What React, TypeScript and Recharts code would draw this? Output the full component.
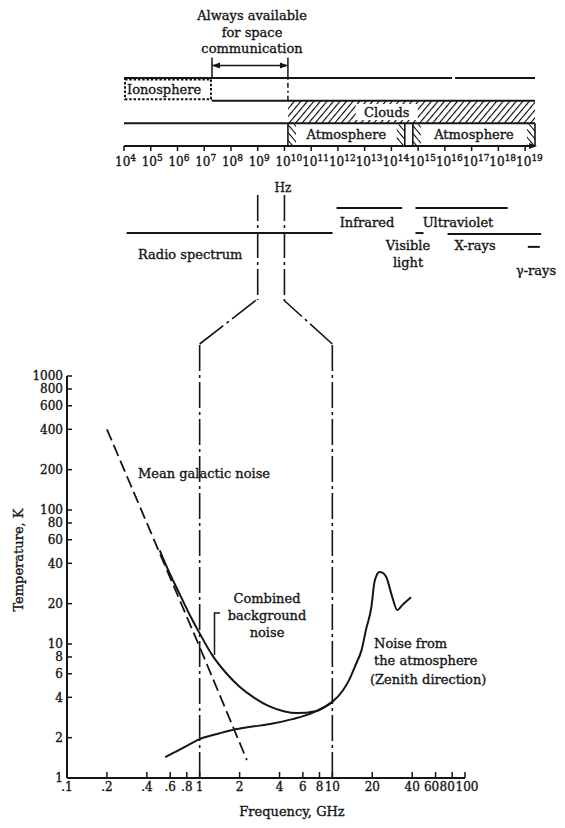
import { ComposedChart, Line, XAxis, YAxis, ReferenceLine, ReferenceArea } from 'recharts';

const INK = '#151515';
const SERIF = '"DejaVu Serif", "Liberation Serif", serif';

// ---- upper diagram: frequency as log10(Hz)
const hzExponents = [4, 5, 6, 7, 8, 9, 10, 11, 12, 13, 14, 15, 16, 17, 18, 19];
const hzMaxExp = 19.37;
const ionosphereExp = [4, 7.29];
const windowExp = [7.29, 10.13]; // always available for space communication
const cloudsExp = [10.13, 19.37];
const atmosphereExp = [
  [10.13, 14.5],
  [14.8, 19.37],
];
const topLineGapExp = [16.27, 16.38];
const bandNames = ['Radio spectrum', 'Infrared', 'Ultraviolet', 'Visible light', 'X-rays', 'γ-rays'];
const bandFromExp = [4.1, 11.95, 14.9, 14.9, 16.1, 19.1];
const bandToExp = [11.8, 14.4, 18.35, 15.2, 19.6, 19.55];
const zoomHzExp = [9, 10];

// ---- lower chart: sky noise temperature vs frequency
const freqTicks = [0.1, 0.2, 0.4, 0.6, 0.8, 1, 2, 4, 6, 8, 10, 20, 40, 60, 80, 100];
const tempTicks = [1, 2, 4, 6, 8, 10, 20, 40, 60, 80, 100, 200, 400, 600, 800, 1000];

const galacticF = [0.2, 1, 2.27];
const galacticT = [400, 9.5, 1.36];

const combinedF = [0.5, 0.55, 0.7, 0.85, 1, 1.24, 1.6, 2, 2.6, 3.3, 4.3, 5.4, 7.5, 10];
const combinedT = [50, 40, 24, 16.2, 12, 8.3, 6.0, 4.8, 3.95, 3.45, 3.15, 3.05, 3.15, 3.7];

const atmosF = [0.55, 0.7, 0.85, 1, 1.4, 1.9, 2.5, 3.4, 5, 7, 8.5, 10, 12, 13.4, 15, 16.6, 18, 19.7, 20.7, 21.6, 22.6, 24, 25.5, 28.3, 30.9, 33.7, 39.2];
const atmosT = [1.43, 1.62, 1.8, 1.95, 2.15, 2.32, 2.42, 2.53, 2.75, 3.05, 3.35, 3.7, 4.5, 5.4, 7, 9, 13, 18.9, 28.5, 32.7, 34.5, 34, 31.6, 22.4, 17.9, 19.5, 22.3];

// zoom connector: lower chart end points (GHz, K) meeting the 1e9 / 1e10 Hz lines
const connectorLowF = [1, 10];
const connectorTopF = [2.67, 4.3];
const connectorKneeT = 1733;
const connectorTopT = 3690;

const toPoints = (fs: number[], ts: number[]) => fs.map((f, i) => ({ f, t: ts[i] }));
const hz = (e: number) => Math.pow(10, e);

// row layout of the upper diagram (y units)
const ROW = { top: 3, clouds: 2, atmos: 1, axis: 0, bracket: 3.9, arrow: 3.55 };
const bandRow = [-3.84, -2.73, -2.73, -3.84, -3.88, -4.45];
const zoomRow = [-2.16, -6.79];

const dashDot = '26 4 3 4';
const textInk = { fill: INK, stroke: INK, strokeWidth: 0.35 };

const Txt = ({ x, y, children, anchor = 'middle', size = 13 }: any) => (
  <text x={x} y={y} dy="0.35em" textAnchor={anchor} fontSize={size} fontFamily={SERIF} {...textInk}>
    {children}
  </text>
);

const PowerTick = (p: any) => {
  const { x, y, payload } = p;
  const e = Math.round(Math.log10(payload.value));
  return (
    <text x={x - 9} y={y + 13} fontSize={12} fontFamily={SERIF} {...textInk}>
      10
      <tspan dy={-5} fontSize={9}>
        {e}
      </tspan>
    </text>
  );
};

// small nudges so the crowded right-hand labels read like the original
const freqNudge: Record<string, number> = { '60': -4, '80': -5, '100': 2 };
const FreqTick = (p: any) => {
  const { x, y, payload } = p;
  const v = payload.value as number;
  const s = v < 1 ? '.' + String(v).slice(2) : String(v);
  return (
    <text x={x + (freqNudge[s] || 0)} y={y} dy="0.75em" textAnchor="middle" fontSize={12} fontFamily={SERIF} {...textInk}>
      {s}
    </text>
  );
};

const doubleArrow = (p: any) => {
  const { x1, y1, x2, y2 } = p;
  return (
    <g>
      <line x1={x1} y1={y1} x2={x2} y2={y2} stroke={INK} strokeWidth={1.5} />
      <polygon points={`${x1},${y1} ${x1 + 8},${y1 - 3} ${x1 + 8},${y1 + 3}`} fill={INK} />
      <polygon points={`${x2},${y2} ${x2 - 8},${y2 - 3} ${x2 - 8},${y2 + 3}`} fill={INK} />
    </g>
  );
};

const endArrow = (p: any) => {
  const { x1, y1, x2, y2 } = p;
  return (
    <g>
      <line x1={x1} y1={y1} x2={x2} y2={y2} stroke={INK} strokeWidth={2} />
      <polygon points={`${x2 + 2},${y2} ${x2 - 6},${y2 - 3} ${x2 - 6},${y2 + 3}`} fill={INK} />
    </g>
  );
};

const ionosphereBox = (p: any) => {
  const { x, y, width, height } = p;
  return (
    <g>
      <rect x={x + 1} y={y + 1.5} width={width - 2} height={height - 3} fill="#fff" stroke={INK} strokeWidth={2} strokeDasharray="2.5 1.8" />
      <Txt x={x + 3} y={y + height / 2} anchor="start">
        Ionosphere
      </Txt>
    </g>
  );
};

const cloudsBox = (p: any) => {
  const { x, y, width, height } = p;
  const cx = x + width * 0.4;
  return (
    <g>
      <rect x={x} y={y} width={width} height={height} fill="url(#hatchUp)" />
      <rect x={cx - 31} y={y + height / 2 - 8} width={62} height={16} fill="#fff" />
      <Txt x={cx} y={y + height / 2}>
        Clouds
      </Txt>
    </g>
  );
};

const atmosphereBox = (p: any) => {
  const { x, y, width, height } = p;
  const s = 8;
  return (
    <g>
      <rect x={x} y={y} width={width} height={height} fill="#fff" />
      <rect x={x} y={y + 1} width={s} height={height - 2} fill="url(#hatchDown)" />
      <rect x={x + width - s} y={y + 1} width={s} height={height - 2} fill="url(#hatchDown)" />
      <line x1={x} y1={y} x2={x} y2={y + height} stroke={INK} strokeWidth={1.6} />
      <line x1={x + width} y1={y} x2={x + width} y2={y + height} stroke={INK} strokeWidth={1.6} />
      <Txt x={x + width / 2} y={y + height / 2}>
        Atmosphere
      </Txt>
    </g>
  );
};

const TopDiagram = () => (
  <ComposedChart width={565} height={350} margin={{ top: 78, right: 30, left: 124, bottom: 174 }}>
    <defs>
      <pattern id="hatchUp" width="5" height="5" patternUnits="userSpaceOnUse" patternTransform="rotate(40)">
        <line x1="0" y1="0" x2="0" y2="5" stroke="#000" strokeWidth="2.2" />
      </pattern>
      <pattern id="hatchDown" width="5" height="5" patternUnits="userSpaceOnUse" patternTransform="rotate(-40)">
        <line x1="0" y1="0" x2="0" y2="5" stroke="#000" strokeWidth="2" />
      </pattern>
    </defs>
    <XAxis
      type="number"
      dataKey="x"
      scale="log"
      domain={[hz(4), hz(hzMaxExp)]}
      allowDataOverflow
      ticks={hzExponents.map(hz)}
      interval={0}
      tick={<PowerTick />}
      tickSize={5}
      tickLine={{ stroke: INK, strokeWidth: 1.5 }}
      axisLine={false}
      height={30}
    />
    <YAxis type="number" domain={[0, 3]} allowDataOverflow hide />

    <ReferenceArea x1={hz(ionosphereExp[0])} x2={hz(ionosphereExp[1])} y1={ROW.clouds} y2={ROW.top} shape={ionosphereBox} ifOverflow="visible" />
    <ReferenceArea x1={hz(cloudsExp[0])} x2={hz(cloudsExp[1])} y1={ROW.atmos} y2={ROW.clouds} shape={cloudsBox} ifOverflow="visible" />
    {atmosphereExp.map(([a, b], i) => (
      <ReferenceArea key={i} x1={hz(a)} x2={hz(b)} y1={ROW.axis} y2={ROW.atmos} shape={atmosphereBox} ifOverflow="visible" />
    ))}

    <ReferenceLine segment={[{ x: hz(4), y: ROW.top }, { x: hz(topLineGapExp[0]), y: ROW.top }]} stroke={INK} strokeWidth={2} ifOverflow="visible" />
    <ReferenceLine segment={[{ x: hz(topLineGapExp[1]), y: ROW.top }, { x: hz(hzMaxExp), y: ROW.top }]} stroke={INK} strokeWidth={2} ifOverflow="visible" />
    <ReferenceLine segment={[{ x: hz(ionosphereExp[1]), y: ROW.clouds }, { x: hz(hzMaxExp), y: ROW.clouds }]} stroke={INK} strokeWidth={2} ifOverflow="visible" />
    <ReferenceLine segment={[{ x: hz(4), y: ROW.atmos }, { x: hz(hzMaxExp), y: ROW.atmos }]} stroke={INK} strokeWidth={2} ifOverflow="visible" />
    <ReferenceLine segment={[{ x: hz(4), y: ROW.axis }, { x: hz(hzMaxExp), y: ROW.axis }]} shape={endArrow} ifOverflow="visible" />
    <ReferenceLine segment={[{ x: hz(windowExp[1]), y: ROW.clouds }, { x: hz(windowExp[1]), y: ROW.top }]} stroke={INK} strokeWidth={1.5} strokeDasharray="5 3 2 3" ifOverflow="visible" />

    {windowExp.map((e, i) => (
      <ReferenceLine key={'b' + i} segment={[{ x: hz(e), y: ROW.top }, { x: hz(e), y: ROW.bracket }]} stroke={INK} strokeWidth={1.5} ifOverflow="visible" />
    ))}
    <ReferenceLine segment={[{ x: hz(windowExp[0]), y: ROW.arrow }, { x: hz(windowExp[1]), y: ROW.arrow }]} shape={doubleArrow} ifOverflow="visible" />

    {bandNames.map((n, i) => (
      <ReferenceLine key={n} segment={[{ x: hz(bandFromExp[i]), y: bandRow[i] }, { x: hz(bandToExp[i]), y: bandRow[i] }]} stroke={INK} strokeWidth={2} ifOverflow="visible" />
    ))}
    {zoomHzExp.map((e) => (
      <ReferenceLine key={'z' + e} segment={[{ x: hz(e), y: zoomRow[0] }, { x: hz(e), y: zoomRow[1] }]} stroke={INK} strokeWidth={1.6} strokeDasharray={dashDot} ifOverflow="visible" />
    ))}

    <Txt x={283} y={188} size={12}>Hz</Txt>

    <Txt x={252} y={15}>Always available</Txt>
    <Txt x={252} y={32}>for space</Txt>
    <Txt x={252} y={48}>communication</Txt>

    <Txt x={138} y={254} anchor="start">Radio spectrum</Txt>
    <Txt x={367} y={222}>Infrared</Txt>
    <Txt x={458} y={222}>Ultraviolet</Txt>
    <Txt x={408} y={245}>Visible</Txt>
    <Txt x={408} y={262}>light</Txt>
    <Txt x={475} y={245}>X-rays</Txt>
    <Txt x={536} y={270}>γ-rays</Txt>
  </ComposedChart>
);

const NoiseChart = () => (
  <ComposedChart width={565} height={828} margin={{ top: 376, right: 100, bottom: 20, left: 22 }}>
    <XAxis
      type="number"
      dataKey="f"
      scale="log"
      domain={[0.1, 100]}
      allowDataOverflow
      ticks={freqTicks}
      interval={0}
      tick={<FreqTick />}
      tickSize={-6}
      tickMargin={10}
      tickLine={{ stroke: INK, strokeWidth: 1.5 }}
      axisLine={{ stroke: INK, strokeWidth: 2 }}
      height={30}
    />
    <YAxis
      type="number"
      scale="log"
      domain={[1, 1000]}
      allowDataOverflow
      ticks={tempTicks}
      interval={0}
      tick={{ fontSize: 12, fontFamily: SERIF, ...textInk }}
      tickSize={-5}
      tickMargin={9}
      tickLine={{ stroke: INK, strokeWidth: 1.5 }}
      axisLine={{ stroke: INK, strokeWidth: 2 }}
      width={45}
    />

    {connectorLowF.map((f) => (
      <ReferenceLine key={'v' + f} segment={[{ x: f, y: 1 }, { x: f, y: connectorKneeT }]} stroke={INK} strokeWidth={1.6} strokeDasharray={dashDot} ifOverflow="visible" />
    ))}
    {connectorLowF.map((f, i) => (
      <ReferenceLine key={'d' + f} segment={[{ x: f, y: connectorKneeT }, { x: connectorTopF[i], y: connectorTopT }]} stroke={INK} strokeWidth={1.6} strokeDasharray="30 4 3 4" ifOverflow="visible" />
    ))}

    <Line data={toPoints(galacticF, galacticT)} dataKey="t" type="linear" stroke={INK} strokeWidth={1.8} strokeDasharray="12 5" dot={false} isAnimationActive={false} />
    <Line data={toPoints(combinedF, combinedT)} dataKey="t" type="monotone" stroke={INK} strokeWidth={2} dot={false} isAnimationActive={false} />
    <Line data={toPoints(atmosF, atmosT)} dataKey="t" type="monotone" stroke={INK} strokeWidth={2} dot={false} isAnimationActive={false} />

    <Txt x={138} y={473} anchor="start">Mean galactic noise</Txt>
    <Txt x={267} y={598}>Combined</Txt>
    <Txt x={267} y={615}>background</Txt>
    <Txt x={267} y={632}>noise</Txt>
    <path d="M220,613 L214.5,613 L214.5,655" fill="none" stroke={INK} strokeWidth={1.5} />
    <Txt x={374} y={643} anchor="start">Noise from</Txt>
    <Txt x={374} y={660} anchor="start">the atmosphere</Txt>
    <Txt x={370} y={679} anchor="start">(Zenith direction)</Txt>
    <Txt x={292} y={811}>Frequency, GHz</Txt>
    <text x={18} y={560} transform="rotate(-90 18 560)" dy="0.35em" textAnchor="middle" fontSize={13} fontFamily={SERIF} {...textInk}>
      Temperature, K
    </text>
  </ComposedChart>
);

export default function App() {
  return (
    <div style={{ position: 'absolute', left: 0, top: 0, width: 565, height: 828, background: '#fff' }}>
      <div style={{ position: 'absolute', left: 0, top: 0 }}>
        <TopDiagram />
      </div>
      <div style={{ position: 'absolute', left: 0, top: 0 }}>
        <NoiseChart />
      </div>
    </div>
  );
}
